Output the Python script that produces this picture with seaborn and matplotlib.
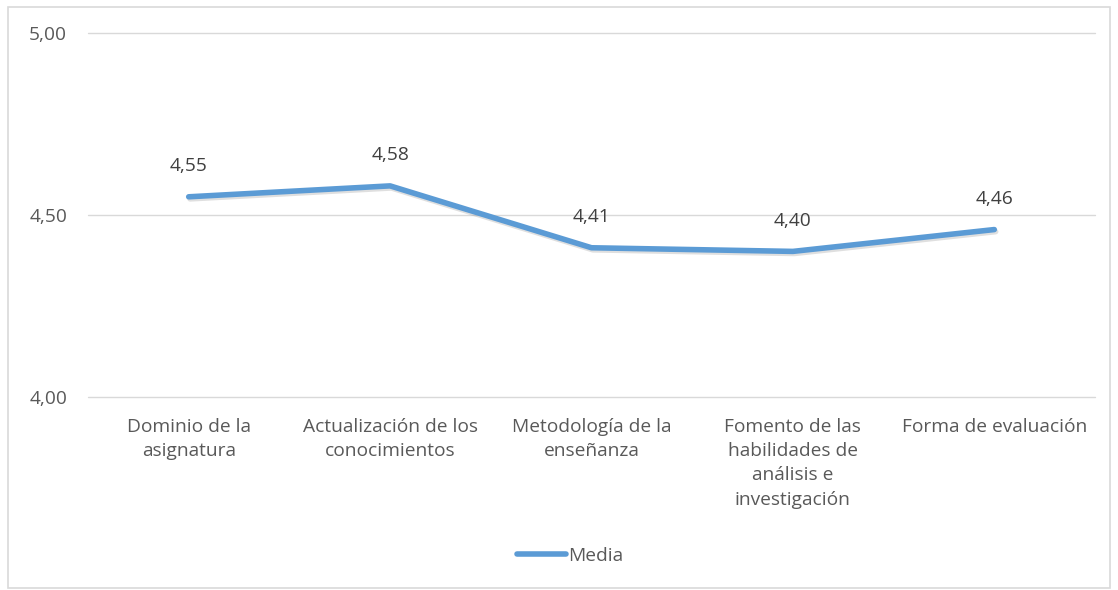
import matplotlib
matplotlib.use("Agg")
import matplotlib.pyplot as plt
import seaborn as sns
import pandas as pd
from matplotlib.patches import Rectangle
from matplotlib.lines import Line2D
import matplotlib.patheffects as pe

categories = ["Dominio de la\nasignatura", "Actualización de los\nconocimientos",
              "Metodología de la\nenseñanza", "Fomento de las\nhabilidades de\nanálisis e\ninvestigación",
              "Forma de evaluación"]
values = [4.55, 4.58, 4.41, 4.40, 4.46]
yticks = [4.00, 4.50, 5.00]
ytick_labels = ["4,00", "4,50", "5,00"]
series_name = "Media"

sns.set_theme(style="white")
plt.rcParams['font.family'] = ['Open Sans', 'DejaVu Sans']

df = pd.DataFrame({"cat": categories, "val": values, "serie": series_name})
df["x"] = range(len(categories))

fig = plt.figure(figsize=(11.18, 5.9), dpi=100)
ax = fig.add_axes([88/1118, 1-397/590, (1095-88)/1118, (397-33)/590])

color = "#5B9BD5"
fs = 13.8
sns.lineplot(data=df, x="x", y="val", hue="serie", palette=[color], ax=ax,
             linewidth=4, legend=False, solid_capstyle="round", solid_joinstyle="round",
             path_effects=[pe.SimpleLineShadow(offset=(1, -1.5), alpha=0.25, shadow_color="gray"), pe.Normal()])

for x, v in zip(df["x"], df["val"]):
    ax.annotate(f"{v:.2f}".replace(".", ","), (x, v), xytext=(0, 22), textcoords="offset points",
                ha="center", va="center", fontsize=fs, color="#404040")

ax.set_xlim(-0.5, len(categories) - 0.5)
ax.set_ylim(4.0, 5.0)
ax.set_yticks(yticks)
ax.set_yticklabels(ytick_labels, fontsize=fs, color="#595959")
ax.set_xticks(df["x"])
ax.set_xticklabels(categories, fontsize=fs, color="#595959", linespacing=1.45)
ax.tick_params(axis="y", length=0, pad=15)
ax.tick_params(axis="x", length=0, pad=15)
ax.set_xlabel("")
ax.set_ylabel("")
ax.grid(axis="y", color="#D9D9D9", linewidth=1)
ax.set_axisbelow(True)
for gl in ax.get_ygridlines():
    gl.set_clip_on(False)
for s in ax.spines.values():
    s.set_visible(False)

handle = Line2D([0], [0], color=color, linewidth=4, solid_capstyle="round")
fig.legend([handle], [series_name], loc="center", bbox_to_anchor=(570/1118, 1-556/590),
           frameon=False, fontsize=fs, handlelength=2.6, handletextpad=0.1,
           labelcolor="#595959")

fig.patches.append(Rectangle((8/1118, 2/590), (1110-8)/1118, (583-2)/590,
                             transform=fig.transFigure, fill=False, edgecolor="#D9D9D9", linewidth=1.2))

fig.savefig("out.png", dpi=100, facecolor="white")
